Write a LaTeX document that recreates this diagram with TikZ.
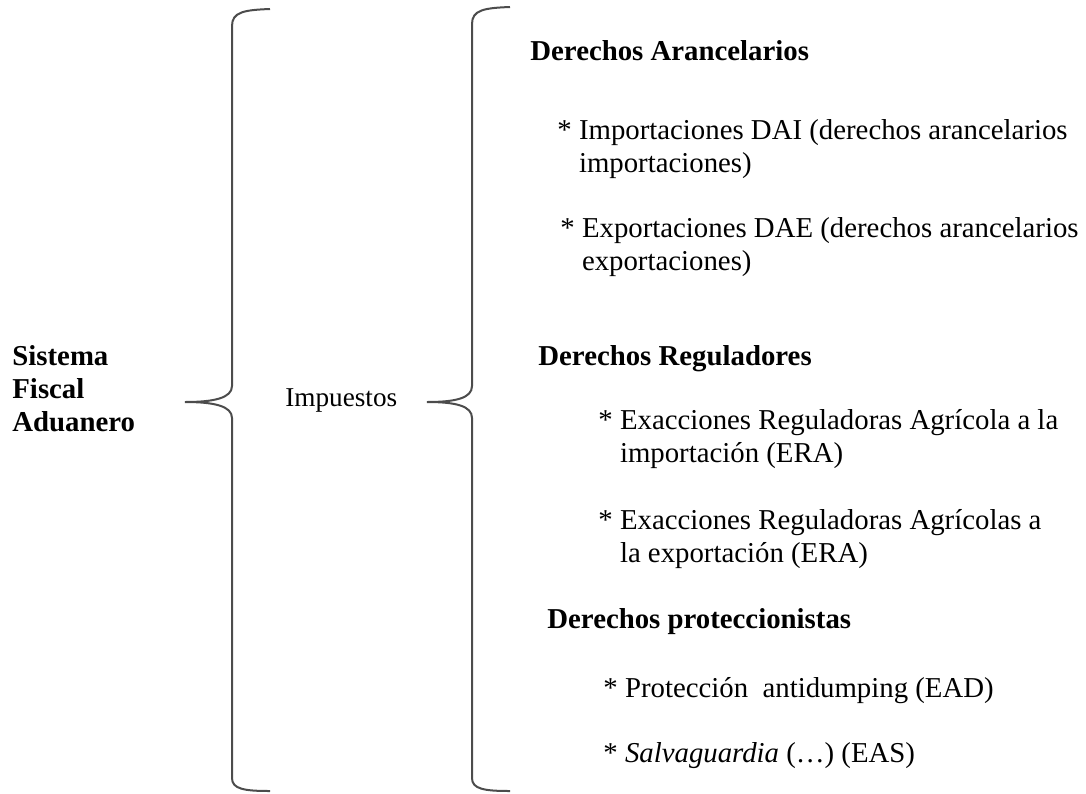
\documentclass[tikz,border=0pt]{standalone}
\usepackage{fontspec}
\setmainfont{Liberation Serif}
\usetikzlibrary{positioning}

\begin{document}
\begin{tikzpicture}[x=0.5pt, y={(0pt,-0.5pt)},
        txt/.style = {anchor=base west, inner sep=0pt, align=left, font=\fontsize{14.4}{16.5}\selectfont},
        head/.style = {txt, font=\fontsize{14.4}{16.5}\selectfont\bfseries},
        brace/.style = {draw=black!70, line width=1pt}]
        \useasboundingbox (0,0) rectangle (1086,793);
        % left side
        \node[head] (sfa) at (12,431) {Sistema\\Fiscal\\Aduanero};
        \node[txt, font=\fontsize{13.6}{15}\selectfont] (imp) at (285,406) {Impuestos};
        % braces
        \draw[brace] (270,9) .. controls (244,10) and (232,12) .. (232,26) -- (232,386)
            .. controls (232,398) and (214,402) .. (185,402)
            .. controls (214,402) and (232,406) .. (232,418) -- (232,778)
            .. controls (232,789) and (244,791) .. (270,791);
        \draw[brace] (510,7) .. controls (484,8) and (472,10) .. (472,24) -- (472,386)
            .. controls (472,398) and (456,402) .. (427,402)
            .. controls (456,402) and (472,406) .. (472,418) -- (472,778)
            .. controls (472,789) and (484,791) .. (510,791);
        % right side
        \node[head] (da)   at (530,60)  {Derechos Arancelarios};
        \node[txt]  (dai)  at (557,172) {*~Importaciones DAI (derechos arancelarios\\\phantom{*~}importaciones)};
        \node[txt]  (dae)  at (560,270) {*~Exportaciones DAE (derechos arancelarios\\\phantom{*~}exportaciones)};
        \node[head] (dr)   at (538,365) {Derechos Reguladores};
        \node[txt]  (era1) at (598,462) {*~Exacciones Reguladoras Agrícola a la\\\phantom{*~}importación (ERA)};
        \node[txt]  (era2) at (598,562) {*~Exacciones Reguladoras Agrícolas a\\\phantom{*~}la exportación (ERA)};
        \node[head] (dp)   at (547,628) {Derechos proteccionistas};
        \node[txt]  (ead)  at (603,697) {*~Protección~~antidumping (EAD)};
        \node[txt]  (eas)  at (603,762) {*~\textit{Salvaguardia} (…) (EAS)};
    \end{tikzpicture}
\end{document}
